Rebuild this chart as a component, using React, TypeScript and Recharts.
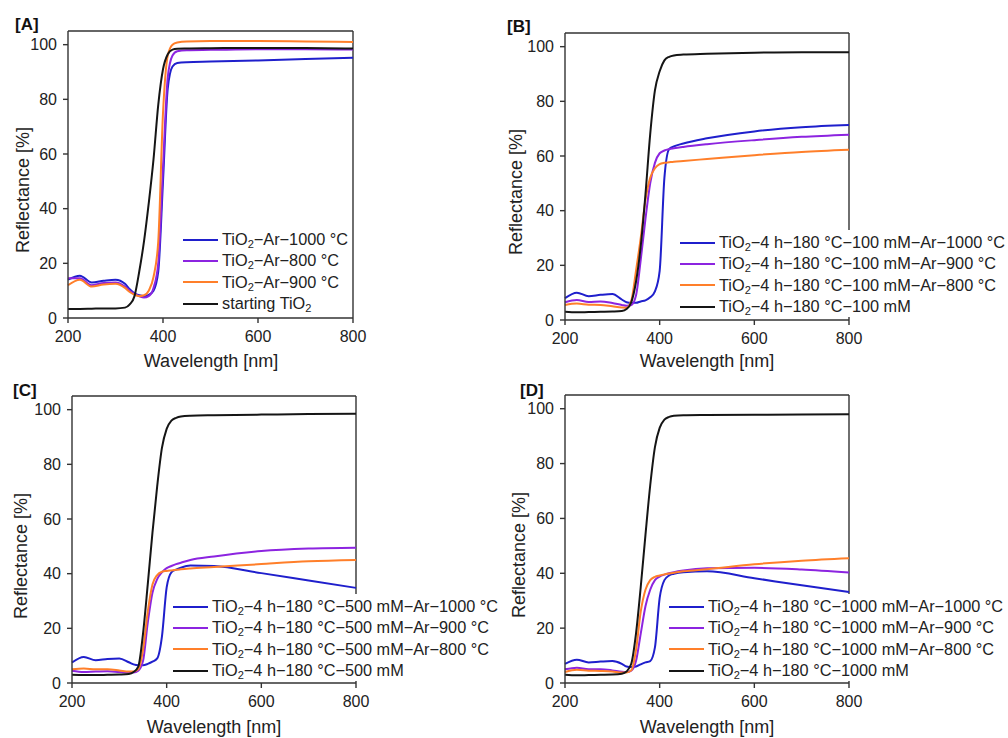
import React from 'react';
import { LineChart, Line, XAxis, YAxis, Legend, ReferenceLine } from 'recharts';

// wavelength grid [nm] shared by all panels
const wavelengths = [200, 225, 250, 275, 300, 320, 330, 340, 350, 360, 370, 380, 390, 400, 410, 420, 430, 450, 500, 600, 700, 800];

// [A] reflectance [%]
const aAr1000 = [14, 15.5, 13, 13.6, 14, 12.5, 10.5, 9, 8.3, 8, 8.5, 10, 17, 50, 84, 92, 93.3, 93.6, 93.8, 94.2, 94.8, 95.2];
const aAr800 = [14.5, 14.5, 12, 12.8, 13, 11.5, 10, 8.8, 8, 7.5, 8, 11, 20, 55, 88, 96, 97.6, 98, 98.1, 98.3, 98.3, 98.2];
const aAr900 = [12, 14, 11.5, 12.3, 12.5, 11, 9.5, 8.5, 8, 8.3, 10, 15, 28, 75, 96, 100, 100.8, 101.2, 101.3, 101.3, 101.2, 101];
const aStart = [3.3, 3.3, 3.4, 3.5, 3.5, 3.8, 5, 8, 17, 28, 42, 58, 78, 91, 96.5, 98.2, 98.5, 98.6, 98.7, 98.8, 98.8, 98.6];

// [B]
const bAr1000 = [8, 10, 8.7, 9.2, 9.5, 7.5, 6.5, 6.3, 6.3, 6.8, 7.2, 8.3, 10.5, 18, 52, 62.5, 63.5, 64.6, 66.5, 69, 70.5, 71.3];
const bAr900 = [6.5, 7.3, 6.6, 6.8, 6.2, 5.5, 5.2, 5.5, 9, 22, 37, 50, 57.5, 61, 62, 62.5, 62.8, 63.3, 64.3, 65.8, 67, 67.8];
const bAr800 = [5.5, 6, 5.6, 5.5, 5, 4.6, 4.5, 7, 18, 30, 44, 52, 55.5, 57, 57.5, 57.7, 57.9, 58.2, 58.9, 60.3, 61.5, 62.3];
const b100 = [3, 2.8, 2.9, 3, 3.1, 3.3, 4, 6.5, 14, 27, 46, 68, 84, 91, 95, 96.3, 96.8, 97.1, 97.4, 97.8, 98, 98];

// [C]
const cAr1000 = [7.5, 9.5, 8.3, 8.8, 9, 7.6, 6.8, 6.5, 6.5, 7, 7.8, 9, 17, 35, 40.5, 41.5, 42.2, 43, 42.8, 40.2, 37.5, 34.8];
const cAr900 = [4.5, 4, 4.2, 4.3, 4, 3.8, 3.8, 4.5, 8, 22, 33, 38, 40.5, 42, 42.8, 43.5, 44, 45, 46.3, 48.3, 49.2, 49.5];
const cAr800 = [5, 5.3, 5, 5, 4.6, 4.2, 4.2, 5, 12, 26, 36, 39.5, 40.7, 41, 41.2, 41.4, 41.6, 41.9, 42.4, 43.5, 44.5, 45];
const c500 = [3, 2.9, 2.9, 3, 3.1, 3.3, 4, 6, 18, 36, 55, 72, 86, 93, 96, 97, 97.5, 97.8, 98, 98.2, 98.4, 98.5];

// [D]
const dAr1000 = [7, 8.5, 7.5, 7.8, 8, 7, 6, 5.8, 6, 6.8, 7.5, 8, 13, 31, 37.5, 39.2, 39.8, 40.4, 40.7, 38.2, 35.6, 33.2];
const dAr900 = [5, 5.6, 5, 5, 4.6, 4.1, 4, 4.5, 8, 18, 28, 34, 37.5, 38.8, 39.5, 40, 40.4, 41, 41.8, 42, 41.4, 40.3];
const dAr800 = [4, 4.8, 4.5, 4.4, 4.2, 3.8, 3.8, 4.6, 12, 26, 34, 37.5, 38.7, 39.2, 39.6, 39.9, 40.2, 40.7, 41.5, 43.3, 44.6, 45.5];
const d1000 = [3, 2.8, 2.9, 3, 3.1, 3.4, 4.2, 7, 18, 35, 54, 72, 86, 93, 96, 97, 97.4, 97.6, 97.7, 97.8, 97.9, 98];

const yTicks = [0, 20, 40, 60, 80, 100];
const xTicks = [200, 400, 600, 800];

const BLUE = '#1f1fcc';
const PURPLE = '#8c24e0';
const ORANGE = '#ff7f2a';
const BLACK = '#151515';
const AXIS = '#333';
const FONT = '"Liberation Sans", Arial, sans-serif';

type Series = { key: string; name: string; color: string; values: number[] };

const panelA: Series[] = [
  { key: 's1', name: 'TiO2−Ar−1000 °C', color: BLUE, values: aAr1000 },
  { key: 's2', name: 'TiO2−Ar−800 °C', color: PURPLE, values: aAr800 },
  { key: 's3', name: 'TiO2−Ar−900 °C', color: ORANGE, values: aAr900 },
  { key: 's4', name: 'starting TiO2', color: BLACK, values: aStart },
];
const panelB: Series[] = [
  { key: 's1', name: 'TiO2−4 h−180 °C−100 mM−Ar−1000 °C', color: BLUE, values: bAr1000 },
  { key: 's2', name: 'TiO2−4 h−180 °C−100 mM−Ar−900 °C', color: PURPLE, values: bAr900 },
  { key: 's3', name: 'TiO2−4 h−180 °C−100 mM−Ar−800 °C', color: ORANGE, values: bAr800 },
  { key: 's4', name: 'TiO2−4 h−180 °C−100 mM', color: BLACK, values: b100 },
];
const panelC: Series[] = [
  { key: 's1', name: 'TiO2−4 h−180 °C−500 mM−Ar−1000 °C', color: BLUE, values: cAr1000 },
  { key: 's2', name: 'TiO2−4 h−180 °C−500 mM−Ar−900 °C', color: PURPLE, values: cAr900 },
  { key: 's3', name: 'TiO2−4 h−180 °C−500 mM−Ar−800 °C', color: ORANGE, values: cAr800 },
  { key: 's4', name: 'TiO2−4 h−180 °C−500 mM', color: BLACK, values: c500 },
];
const panelD: Series[] = [
  { key: 's1', name: 'TiO2−4 h−180 °C−1000 mM−Ar−1000 °C', color: BLUE, values: dAr1000 },
  { key: 's2', name: 'TiO2−4 h−180 °C−1000 mM−Ar−900 °C', color: PURPLE, values: dAr900 },
  { key: 's3', name: 'TiO2−4 h−180 °C−1000 mM−Ar−800 °C', color: ORANGE, values: dAr800 },
  { key: 's4', name: 'TiO2−4 h−180 °C−1000 mM', color: BLACK, values: d1000 },
];

const toRows = (series: Series[]) =>
  wavelengths.map((w, i) => {
    const row: Record<string, number> = { w };
    series.forEach((s) => (row[s.key] = s.values[i]));
    return row;
  });

// TiO2 -> TiO with subscript 2
const withSub = (name: string) => {
  const parts = name.split('TiO2');
  return parts.map((p, i) => (
    <React.Fragment key={i}>
      {i > 0 && (
        <>
          TiO<sub style={{ fontSize: '0.68em', verticalAlign: '-0.3em', lineHeight: 0 }}>2</sub>
        </>
      )}
      {p}
    </React.Fragment>
  ));
};

const legendContent = (series: Series[]) => () => (
  <div style={{ background: '#fff', padding: '2px 2px 0 3px' }}>
    {series.map((s) => (
      <div key={s.key} style={{ display: 'flex', alignItems: 'center', height: 21.3, whiteSpace: 'nowrap' }}>
        <span style={{ display: 'inline-block', width: 35, height: 2, background: s.color, marginRight: 4 }} />
        <span style={{ fontSize: 16.3, color: '#222', lineHeight: '21px' }}>{withSub(s.name)}</span>
      </div>
    ))}
  </div>
);

type PanelProps = {
  letter: string;
  series: Series[];
  left: number;
  top: number;
  height: number;
  margin: { top: number; right: number; bottom: number; left: number };
  legendPos: { left: number; top: number };
  yTitle: { x: number; y: number };
  xTitle: { x: number; y: number };
  letterPos: { x: number; y: number };
};

const W = 504;

const Panel = ({ letter, series, left, top, height, margin, legendPos, yTitle, xTitle, letterPos }: PanelProps) => {
  const data = toRows(series);
  return (
    <div style={{ position: 'absolute', left, top, width: W, height }}>
      <LineChart width={W} height={height} data={data} margin={margin}>
        <XAxis
          dataKey="w"
          type="number"
          domain={[200, 800]}
          ticks={xTicks}
          height={40}
          tickSize={5}
          tickMargin={8}
          tick={{ fontSize: 16, fill: '#222' }}
          axisLine={{ stroke: AXIS, strokeWidth: 1.4 }}
          tickLine={{ stroke: AXIS, strokeWidth: 1.4 }}
          label={() => (
            <text x={xTitle.x} y={xTitle.y} textAnchor="middle" dominantBaseline="central" fontSize={18} fill="#222">
              Wavelength [nm]
            </text>
          )}
        />
        <YAxis
          type="number"
          domain={[0, 105]}
          ticks={yTicks}
          width={50}
          tickSize={5}
          tickMargin={6}
          tick={{ fontSize: 16, fill: '#222' }}
          axisLine={{ stroke: AXIS, strokeWidth: 1.4 }}
          tickLine={{ stroke: AXIS, strokeWidth: 1.4 }}
          label={() => (
            <text
              x={yTitle.x}
              y={yTitle.y}
              transform={`rotate(-90 ${yTitle.x} ${yTitle.y})`}
              textAnchor="middle"
              dominantBaseline="central"
              fontSize={18}
              fill="#222"
            >
              Reflectance [%]
            </text>
          )}
        />
        <ReferenceLine y={105} stroke={AXIS} strokeWidth={1.4} />
        <ReferenceLine x={800} stroke={AXIS} strokeWidth={1.4} />
        {series.map((s) => (
          <Line
            key={s.key}
            dataKey={s.key}
            name={s.name}
            type="monotone"
            stroke={s.color}
            strokeWidth={2}
            dot={false}
            isAnimationActive={false}
          />
        ))}
        <Legend
          layout="vertical"
          align="center"
          verticalAlign="middle"
          content={legendContent(series)}
          wrapperStyle={{ left: legendPos.left, top: legendPos.top, width: 'auto', height: 'auto' }}
        />
      </LineChart>
      <div
        style={{
          position: 'absolute',
          left: letterPos.x,
          top: letterPos.y,
          fontSize: 17,
          fontWeight: 'bold',
          lineHeight: '17px',
          color: '#111',
        }}
      >
        {letter}
      </div>
    </div>
  );
};

export default function App() {
  return (
    <div style={{ position: 'absolute', left: 0, top: 0, width: 1008, height: 738, background: '#fff', fontFamily: FONT }}>
      <Panel
        letter="[A]"
        series={panelA}
        left={0}
        top={0}
        height={376}
        margin={{ top: 31, right: 151, bottom: 18, left: 18 }}
        legendPos={{ left: 180, top: 227 }}
        yTitle={{ x: 23, y: 190 }}
        xTitle={{ x: 211, y: 361 }}
        letterPos={{ x: 15, y: 16 }}
      />
      <Panel
        letter="[B]"
        series={panelB}
        left={504}
        top={0}
        height={376}
        margin={{ top: 33, right: 159, bottom: 16, left: 11 }}
        legendPos={{ left: 173, top: 230 }}
        yTitle={{ x: 12, y: 192 }}
        xTitle={{ x: 203, y: 361 }}
        letterPos={{ x: 3, y: 18 }}
      />
      <Panel
        letter="[C]"
        series={panelC}
        left={0}
        top={369}
        height={369}
        margin={{ top: 27, right: 148, bottom: 15, left: 22 }}
        legendPos={{ left: 170, top: 225 }}
        yTitle={{ x: 21, y: 187 }}
        xTitle={{ x: 214, y: 358 }}
        letterPos={{ x: 13, y: 13 }}
      />
      <Panel
        letter="[D]"
        series={panelD}
        left={504}
        top={369}
        height={369}
        margin={{ top: 26, right: 159, bottom: 15, left: 11 }}
        legendPos={{ left: 162, top: 225 }}
        yTitle={{ x: 15, y: 186 }}
        xTitle={{ x: 203, y: 358 }}
        letterPos={{ x: 16, y: 13 }}
      />
    </div>
  );
}
